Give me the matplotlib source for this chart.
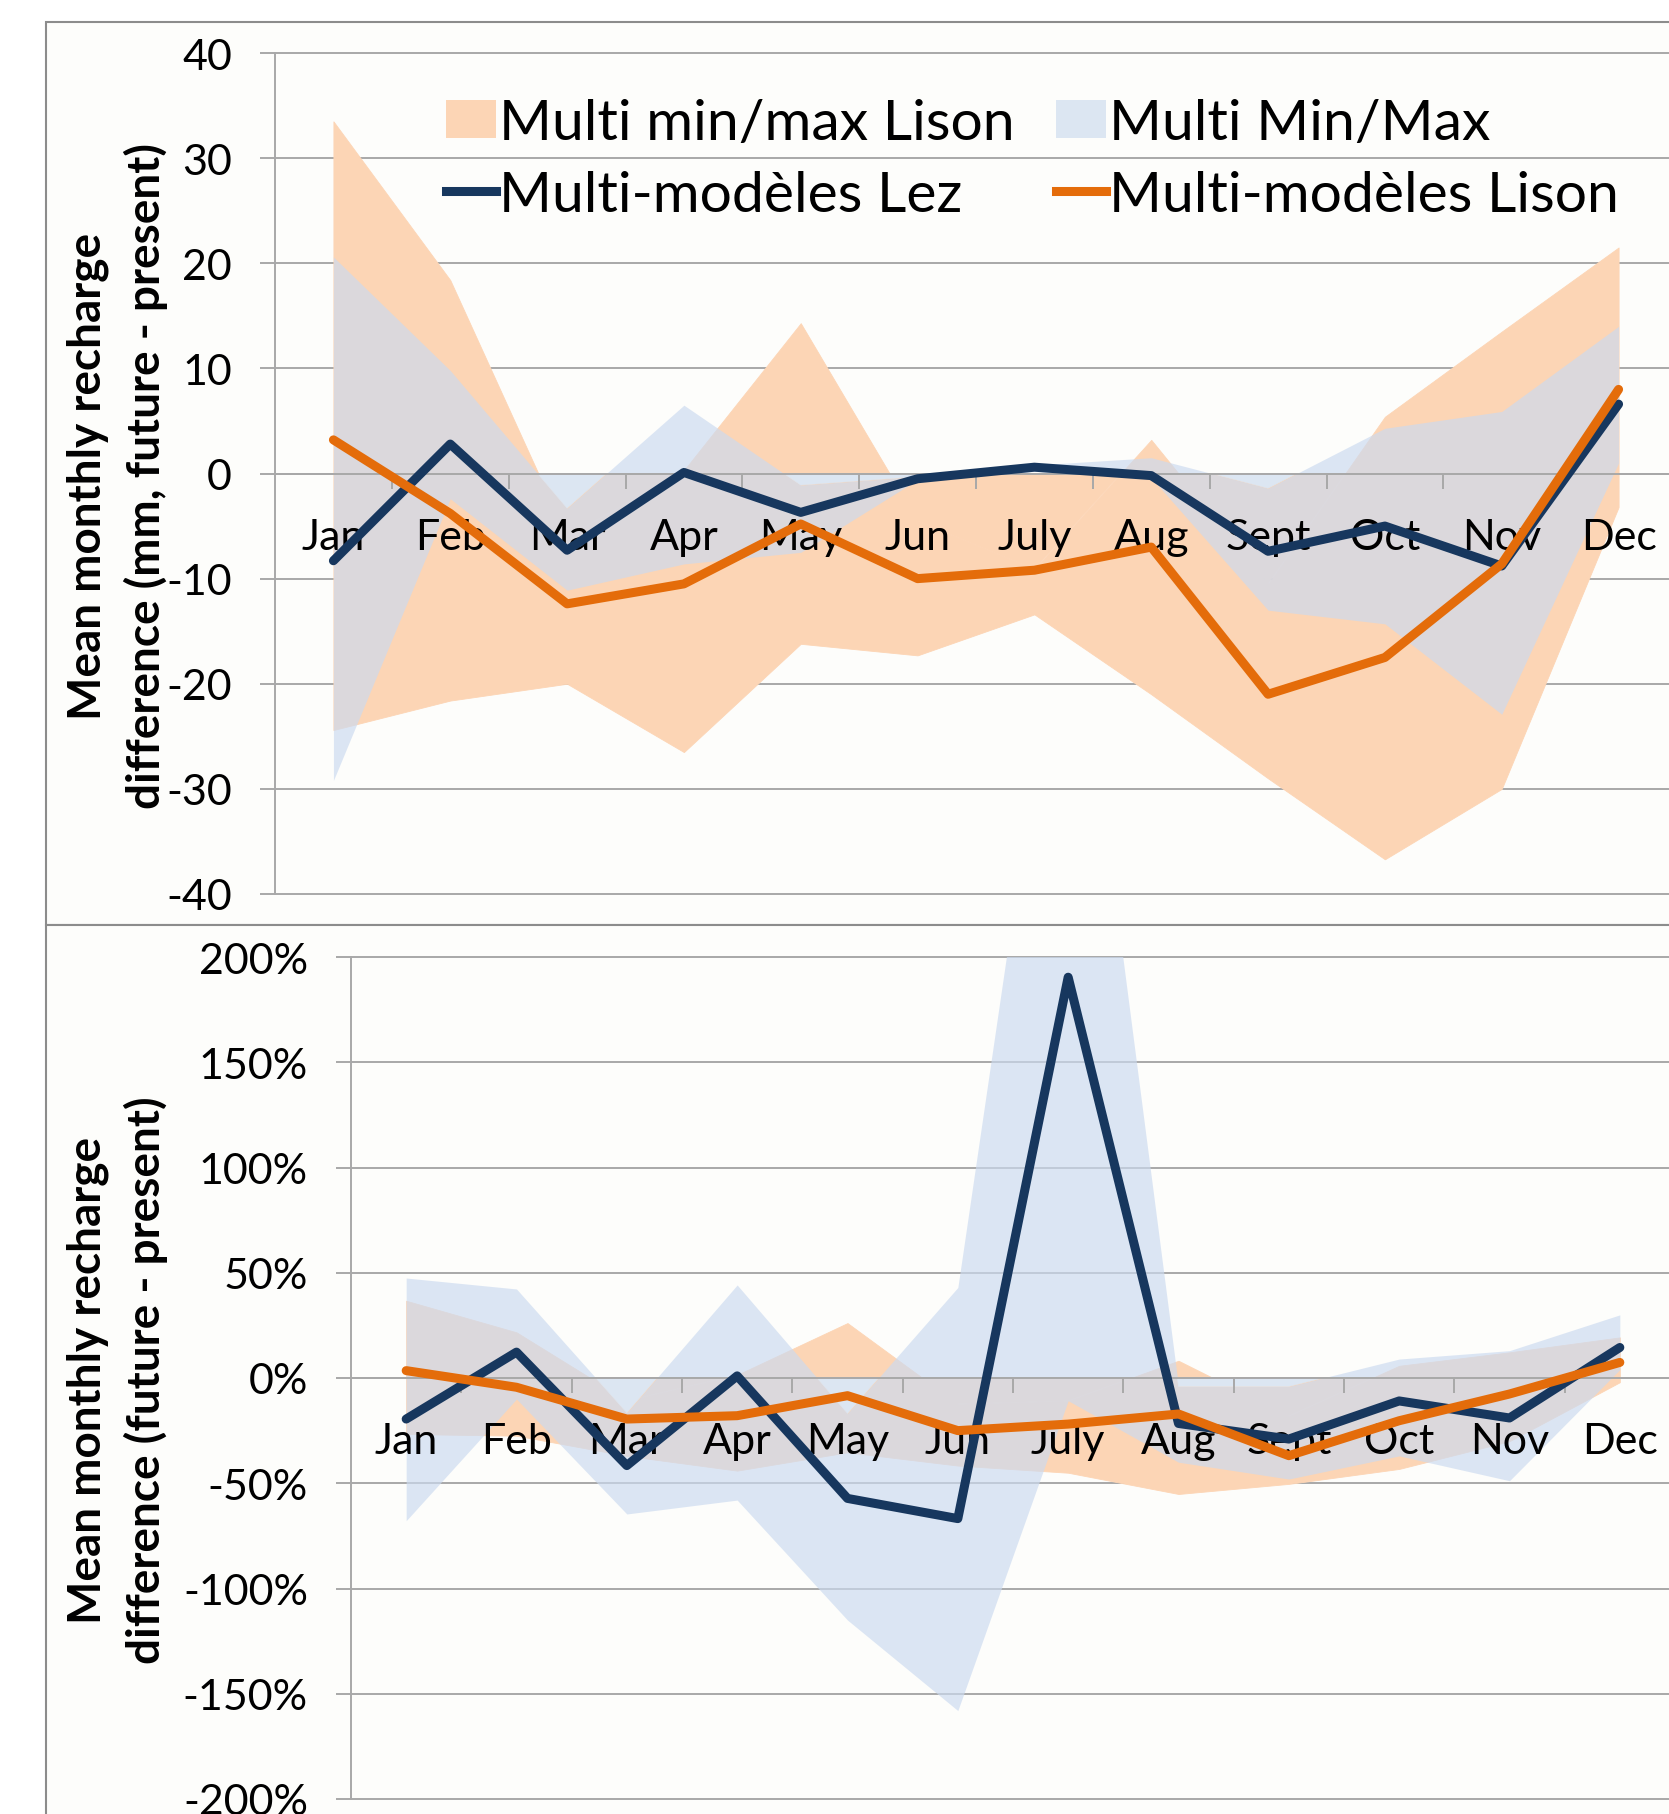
import numpy as np
import matplotlib.pyplot as plt
from matplotlib.patches import Patch, Rectangle
from matplotlib.lines import Line2D

plt.rcParams['font.family'] = ['Lato', 'DejaVu Sans']

months = ['Jan', 'Feb', 'Mar', 'Apr', 'May', 'Jun', 'July', 'Aug', 'Sept', 'Oct', 'Nov', 'Dec']

# top panel: difference in mm
lez_mm = [-8.3, 2.8, -7.3, 0.1, -3.7, -0.5, 0.6, -0.2, -7.4, -5.0, -8.8, 6.6]
lison_mm = [3.2, -3.8, -12.4, -10.5, -4.8, -10.0, -9.2, -7.0, -21.0, -17.5, -8.6, 8.0]
lez_mm_max = [20.6, 9.8, -3.3, 6.5, -1.1, -0.3, 0.8, 1.5, -1.4, 4.3, 5.9, 14.0]
lez_mm_min = [-29.2, -2.4, -11.1, -8.6, -7.5, -0.6, 0.2, -0.4, -13.0, -14.3, -22.9, 1.0]
lison_mm_max = [33.5, 18.4, -6.0, 0.3, 14.3, -4.5, -9.1, 3.2, -10.5, 5.4, 13.5, 21.5]
lison_mm_min = [-24.4, -21.6, -20.0, -26.5, -16.2, -17.3, -13.4, -21.0, -29.0, -36.7, -30.0, -3.2]

# bottom panel: difference in %
lez_pct = [-19.5, 12.3, -41.6, 1.0, -57.2, -66.8, 190.4, -21.6, -29.0, -10.9, -19.0, 14.5]
lison_pct = [3.5, -4.4, -19.5, -17.9, -8.4, -25.0, -21.9, -17.1, -36.9, -20.3, -7.6, 7.4]
lez_pct_max = [47.5, 42.3, -16.5, 44.2, -16.8, 43.0, 400.0, -4.0, -4.0, 9.0, 13.0, 30.0]
lez_pct_min = [-67.8, -10.0, -64.6, -58.0, -115.0, -158.0, -10.8, -40.0, -48.0, -37.0, -48.8, 4.0]
lison_pct_max = [36.7, 21.7, -10.7, 1.5, 26.1, -12.3, -10.8, 8.2, -18.0, 5.8, 12.2, 19.3]
lison_pct_min = [-26.6, -27.4, -37.0, -44.0, -35.3, -41.6, -45.0, -55.1, -50.3, -43.2, -30.0, -2.0]

peach = '#FCD5B5'
lightblue = '#DCE6F2'
navy = '#17375E'
orange = '#E46C0A'
grid = '#A8A8A8'

fig = plt.figure(figsize=(16.69, 18.15), dpi=100)
fig.patch.set_facecolor('white')

# chart area frames
fig.add_artist(Rectangle((46 / 1669, 1 - 926 / 1815), 1.0, 903 / 1815, transform=fig.transFigure,
                         facecolor='#FDFDFB', edgecolor='#8C8C8C', lw=1.5, zorder=0))
fig.add_artist(Rectangle((46 / 1669, -0.05), 1.0, 1 - 926 / 1815 + 0.05, transform=fig.transFigure,
                         facecolor='#FDFDFB', edgecolor='#8C8C8C', lw=1.5, zorder=0))

ax1 = fig.add_axes([275 / 1669, 1 - 895 / 1815, 1402 / 1669, 841 / 1815])
ax2 = fig.add_axes([351 / 1669, 1 - 1800 / 1815, 1324 / 1669, 842 / 1815])


def draw(ax, lez, lison, lez_hi, lez_lo, li_hi, li_lo, ylim, step, fmt):
    x = np.arange(12)
    lez_hi = np.array(lez_hi)
    li_hi = np.array(li_hi)
    zero = np.zeros(12)
    ax.set_facecolor('none')
    # Lison band
    ax.fill_between(x, li_lo, li_hi, facecolor=peach, edgecolor=peach, lw=0.6, zorder=1)
    ax.fill_between(x, li_hi, zero, where=li_hi < 0, interpolate=True,
                    facecolor=peach, edgecolor=peach, lw=0.6, zorder=1)
    # Lez band (translucent, grey where it overlaps the Lison band)
    ax.fill_between(x, lez_lo, lez_hi, color=(203 / 255, 218 / 255, 240 / 255), alpha=0.67,
                    lw=0, zorder=1.1)
    ax.fill_between(x, lez_hi, zero, where=lez_hi < 0, interpolate=True,
                    facecolor=lightblue, edgecolor=lightblue, lw=0.4, zorder=1.2)

    ax.plot(x, lez, color=navy, lw=6.5, solid_joinstyle='round', solid_capstyle='round', zorder=3)
    ax.plot(x, lison, color=orange, lw=6.5, solid_joinstyle='round', solid_capstyle='round', zorder=3)

    ax.set_xlim(-0.5, 11.5)
    ax.set_ylim(-ylim, ylim)
    ticks = np.arange(-ylim, ylim + step / 2, step)
    ax.set_yticks(ticks)
    ax.set_yticklabels([fmt(t) for t in ticks])
    for t in ticks:
        ax.axhline(t, color=grid, lw=1.4, zorder=0.5, clip_on=False)
    for s in ['top', 'right']:
        ax.spines[s].set_visible(False)
    ax.spines['left'].set_color(grid)
    ax.spines['left'].set_linewidth(1.4)
    ax.spines['bottom'].set_position(('data', 0))
    ax.spines['bottom'].set_color(grid)
    ax.spines['bottom'].set_linewidth(1.4)
    ax.set_xticks(x)
    ax.set_xticklabels(months)
    ax.set_xticks(np.arange(0.5, 11, 1), minor=True)
    ax.tick_params(axis='x', which='major', length=0, pad=32, labelsize=31)
    ax.tick_params(axis='x', which='minor', length=11, width=1.4, color=grid, direction='out')
    ax.tick_params(axis='y', length=11, width=1.4, color=grid, pad=20, labelsize=31)


draw(ax1, lez_mm, lison_mm, lez_mm_max, lez_mm_min, lison_mm_max, lison_mm_min, 40, 10,
     lambda v: '%d' % v)
draw(ax2, lez_pct, lison_pct, lez_pct_max, lez_pct_min, lison_pct_max, lison_pct_min, 200, 50,
     lambda v: '%d%%' % v)

fig.text(117 / 1669, 1 - 476 / 1815, 'Mean monthly recharge\ndifference (mm, future - present)',
         rotation=90, ha='center', va='center', fontsize=33, fontweight='bold', linespacing=1.4)
fig.text(117 / 1669, 1 - 1380 / 1815, 'Mean monthly recharge\ndifference (future - present)',
         rotation=90, ha='center', va='center', fontsize=33, fontweight='bold', linespacing=1.4)

handles = [Patch(facecolor=peach, edgecolor='none'),
           Line2D([], [], color=navy, lw=6.5),
           Patch(facecolor=lightblue, edgecolor='none'),
           Line2D([], [], color=orange, lw=6.5)]
labels = ['Multi min/max Lison', 'Multi-modèles Lez', 'Multi Min/Max', 'Multi-modèles Lison']
ax1.legend(handles, labels, ncol=2, loc='upper left', bbox_to_anchor=(446 / 1669, 1 - 99 / 1815),
           bbox_transform=fig.transFigure, frameon=False, fontsize=41, handlelength=0.88,
           handleheight=0.63, handletextpad=0.05, columnspacing=0.72, labelspacing=0.36,
           borderpad=0, borderaxespad=0)

fig.savefig('out.png', dpi=100, facecolor='white')
